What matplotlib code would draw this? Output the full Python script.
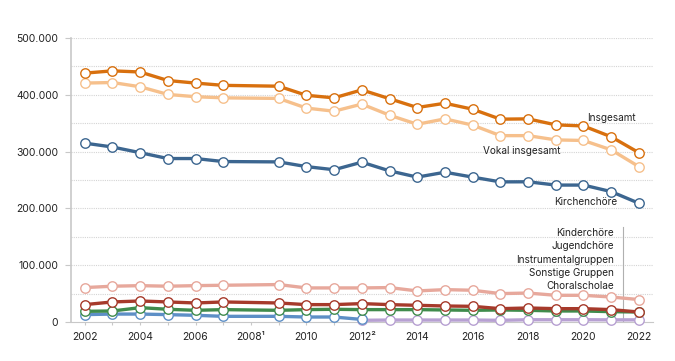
import matplotlib
matplotlib.use("Agg")
import matplotlib.pyplot as plt
import numpy as np

plt.rcParams['font.family'] = ['Inter', 'DejaVu Sans']

# Jahre (2008 fehlt in den Daten)
jahre = [2002, 2003, 2004, 2005, 2006, 2007, 2009, 2010, 2011, 2012,
         2013, 2014, 2015, 2016, 2017, 2018, 2019, 2020, 2021, 2022]

insgesamt = [438000, 442000, 440000, 425000, 420500, 416500, 415000, 399000, 394500, 408500,
             393000, 377500, 385000, 374500, 357000, 357500, 347000, 345000, 326000, 298000]
vokal = [420500, 421500, 414000, 400500, 396500, 394500, 393500, 376500, 371000, 383500,
         364000, 348000, 357500, 346500, 328000, 328000, 320500, 319500, 303000, 273500]
kirchenchoere = [314800, 308000, 298000, 287700, 287700, 282400, 281800, 273500, 268000, 281300,
                 266000, 255000, 263600, 255000, 246600, 246800, 241000, 241000, 229500, 209000]
kinderchoere = [60600, 63000, 64000, 63000, 64000, 64700, 65900, 60000, 60000, 60000,
                60600, 54700, 57000, 55900, 50000, 51000, 47000, 47000, 44000, 39500]
jugendchoere = [30600, 35300, 37000, 35300, 33500, 35300, 33500, 30600, 30600, 32400,
                30600, 29400, 28200, 27600, 23500, 24700, 23500, 23500, 21800, 17600]
instrumental = [18800, 19400, 25300, 22400, 20600, 21800, 20600, 21800, 22400, 21800,
                21800, 21800, 21200, 20600, 21200, 20600, 19400, 19400, 18200, 17600]
# Sonstige Gruppen bis 2012, Choralscholae ab 2012
jahre_sonstige = [2002, 2003, 2004, 2005, 2006, 2007, 2009, 2010, 2011, 2012]
sonstige = [13000, 14000, 14000, 13000, 11800, 10000, 10000, 8800, 8800, 4500]
jahre_choral = [2012, 2013, 2014, 2015, 2016, 2017, 2018, 2019, 2020, 2021, 2022]
choral = [3000, 3500, 3500, 3500, 3500, 3000, 4000, 4000, 4000, 3800, 3800]

x_ticks = list(range(2002, 2023))
x_labels = {2002: '2002', 2004: '2004', 2006: '2006', 2008: '2008\u00b9', 2010: '2010',
            2012: '2012\u00b2', 2014: '2014', 2016: '2016', 2018: '2018', 2020: '2020', 2022: '2022'}

fig = plt.figure(figsize=(6.75, 3.61), dpi=100)
ax = fig.add_axes([0.105, 0.108, 0.862, 0.787])

serien = [
    (jahre_choral, choral, '#b7a0d2'),
    (jahre_sonstige, sonstige, '#5d8fc6'),
    (jahre, instrumental, '#3f8b4c'),
    (jahre, jugendchoere, '#a63a2b'),
    (jahre, kinderchoere, '#e7a89c'),
    (jahre, kirchenchoere, '#3c6690'),
    (jahre, vokal, '#f6c08c'),
    (jahre, insgesamt, '#d8700e'),
]
for xs, ys, farbe in serien:
    ax.plot(xs, ys, color=farbe, lw=2.4, marker='o', ms=6.8, mfc='white',
            mec=farbe, mew=1.0, clip_on=False, zorder=3)

ax.set_xlim(2001.5, 2022.5)
ax.set_ylim(0, 500000)

ax.set_xticks(x_ticks)
ax.set_xticklabels([x_labels.get(j, '') for j in x_ticks], fontsize=7.5, color='#222222')
ax.set_yticks(np.arange(0, 500001, 100000))
ax.set_yticklabels(['0', '100.000', '200.000', '300.000', '400.000', '500.000'],
                   fontsize=7.5, color='#222222')
ax.tick_params(axis='x', length=2, color='#c8c8c8', pad=5)
ax.tick_params(axis='y', length=4, color='#c8c8c8', pad=5)

for v in np.arange(50000, 500001, 50000):
    ax.axhline(v, color='#d4d4d4', lw=0.8, ls=(0, (1, 1)), zorder=1)

for s in ['top', 'right']:
    ax.spines[s].set_visible(False)
ax.spines['left'].set_color('#c8c8c8')
ax.spines['bottom'].set_color('#c8c8c8')
ax.spines['left'].set_linewidth(1.2)

# Beschriftungen
fs = 7.2
ax.text(2020.12, 359000, 'Insgesamt', fontsize=fs, ha='left', va='center', color='#222222')
ax.text(2016.37, 301000, 'Vokal insgesamt', fontsize=fs, ha='left', va='center', color='#222222')
ax.text(2018.93, 211000, 'Kirchenchöre', fontsize=fs, ha='left', va='center', color='#222222')

labels_unten = ['Kinderchöre', 'Jugendchöre', 'Instrumentalgruppen', 'Sonstige Gruppen', 'Choralscholae']
for i, t in enumerate(labels_unten):
    ax.text(2021.1, 156000 - i * 23000, t, fontsize=fs, ha='right', va='center', color='#222222')
ax.plot([2021.42, 2021.42], [0, 168000], color='#b0b0b0', lw=0.8, zorder=2)

fig.savefig('out.png', dpi=100)
